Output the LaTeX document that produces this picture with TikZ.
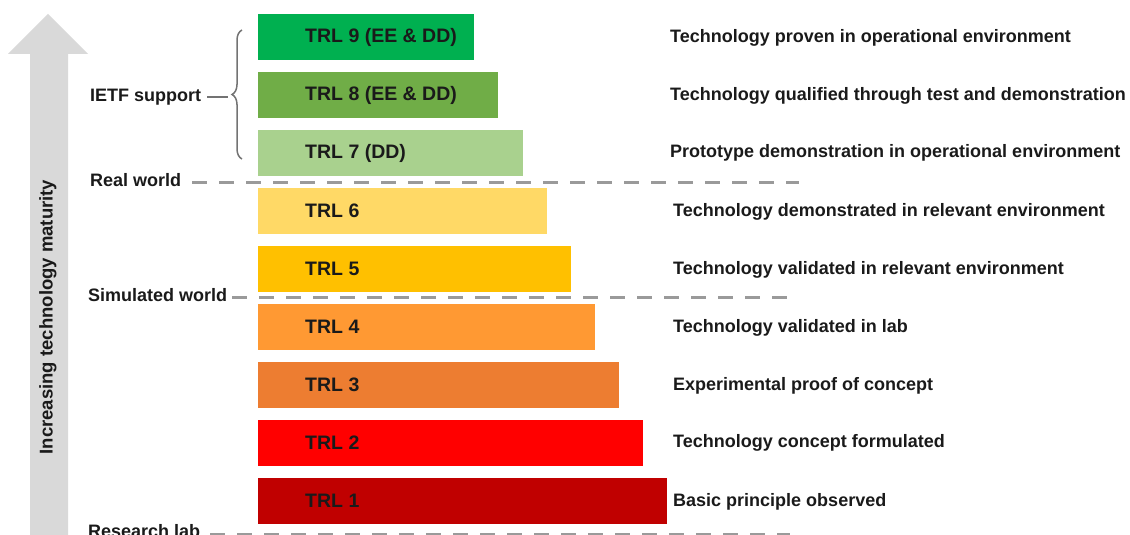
\documentclass[tikz,border=0pt]{standalone}
\usepackage{fontspec}
\setmainfont{Liberation Sans}
\usetikzlibrary{decorations.pathreplacing}
\definecolor{c9}{HTML}{00B050}
\definecolor{c8}{HTML}{70AD47}
\definecolor{c7}{HTML}{A9D18E}
\definecolor{c6}{HTML}{FFD966}
\definecolor{c5}{HTML}{FFC000}
\definecolor{c4}{HTML}{FF9933}
\definecolor{c3}{HTML}{ED7D31}
\definecolor{c2}{HTML}{FF0000}
\definecolor{c1}{HTML}{C00000}
\definecolor{txt}{HTML}{1A1A1A}
\definecolor{arrowgray}{HTML}{D9D9D9}
\definecolor{dashgray}{HTML}{9A9A9A}
\tikzset{
  bar/.style={fill=#1, draw=none},
  trltext/.style={anchor=west, text=txt, font=\bfseries\fontsize{19.5}{23}\selectfont, inner sep=0pt},
  desc/.style={anchor=west, text=txt, font=\bfseries\fontsize{18}{21}\selectfont, inner sep=0pt},
  lbl/.style={anchor=west, text=txt, font=\bfseries\fontsize{18}{21}\selectfont, inner sep=0pt},
  sep/.style={draw=dashgray, line width=3pt, dash pattern=on 15pt off 12pt},
}
\begin{document}
\begin{tikzpicture}[x=1pt,y=-1pt]
\useasboundingbox (0,0) rectangle (1130,535);
% arrow
\fill[arrowgray] (30,540) -- (30,54) -- (8,54) -- (48,14) -- (88,54) -- (68,54) -- (68,540) -- cycle;
\node[rotate=90, text=txt, font=\bfseries\fontsize{18.5}{22}\selectfont] (arrowlbl) at (48,317) {Increasing technology maturity};
% bars
\foreach \n/\c/\r [count=\i from 0] in {9/c9/474, 8/c8/498, 7/c7/523, 6/c6/547, 5/c5/571, 4/c4/595, 3/c3/619, 2/c2/643, 1/c1/667}{
  \fill[bar=\c] (258,{14+58*\i}) rectangle (\r,{60+58*\i});
  \coordinate (b\n) at (258,{37+58*\i});
}
\node[trltext] (t9) at ([xshift=47pt]b9) {TRL 9 (EE \& DD)};
\node[trltext] (t8) at ([xshift=47pt]b8) {TRL 8 (EE \& DD)};
\node[trltext] (t7) at ([xshift=47pt]b7) {TRL 7 (DD)};
\node[trltext] (t6) at ([xshift=47pt]b6) {TRL 6};
\node[trltext] (t5) at ([xshift=47pt]b5) {TRL 5};
\node[trltext] (t4) at ([xshift=47pt]b4) {TRL 4};
\node[trltext] (t3) at ([xshift=47pt]b3) {TRL 3};
\node[trltext] (t2) at ([xshift=47pt]b2) {TRL 2};
\node[trltext] (t1) at ([xshift=47pt]b1) {TRL 1};
% descriptions
\node[desc] (d9) at (670,38) {Technology proven in operational environment};
\node[desc] (d8) at (670,96) {Technology qualified through test and demonstration};
\node[desc] (d7) at (670,153) {Prototype demonstration in operational environment};
\node[desc] (d6) at (673,212) {Technology demonstrated in relevant environment};
\node[desc] (d5) at (673,270) {Technology validated in relevant environment};
\node[desc] (d4) at (673,328) {Technology validated in lab};
\node[desc] (d3) at (673,386) {Experimental proof of concept};
\node[desc] (d2) at (673,443) {Technology concept formulated};
\node[desc] (d1) at (673,502) {Basic principle observed};
% separators
\node[lbl] (real) at (90,180) {Real world};
\node[lbl] (sim) at (88,295) {Simulated world};
\node[lbl] (lab) at (88,531) {Research lab};
\coordinate (realend) at (799,182);
\coordinate (simend) at (799,297);
\coordinate (labend) at (790,534);
\draw[sep] ([xshift=11pt]real.east |- realend) -- (realend);
\draw[sep] ([xshift=5pt]sim.east |- simend) -- (simend);
\draw[sep] ([xshift=10pt]lab.east |- labend) -- (labend);
% brace
\node[lbl] (ietf) at (90,97) {IETF support};
\coordinate (btop) at (242,30);
\coordinate (bbot) at (242,159);
\draw[draw=gray!90!black, line width=1.5pt, decorate, decoration={brace, amplitude=10pt, mirror}] (btop) -- (bbot);
\coordinate (btip) at (228,97);
\draw[draw=gray!90!black, line width=1.5pt] ([xshift=6pt]ietf.east) -- (btip);
\end{tikzpicture}
\end{document}
